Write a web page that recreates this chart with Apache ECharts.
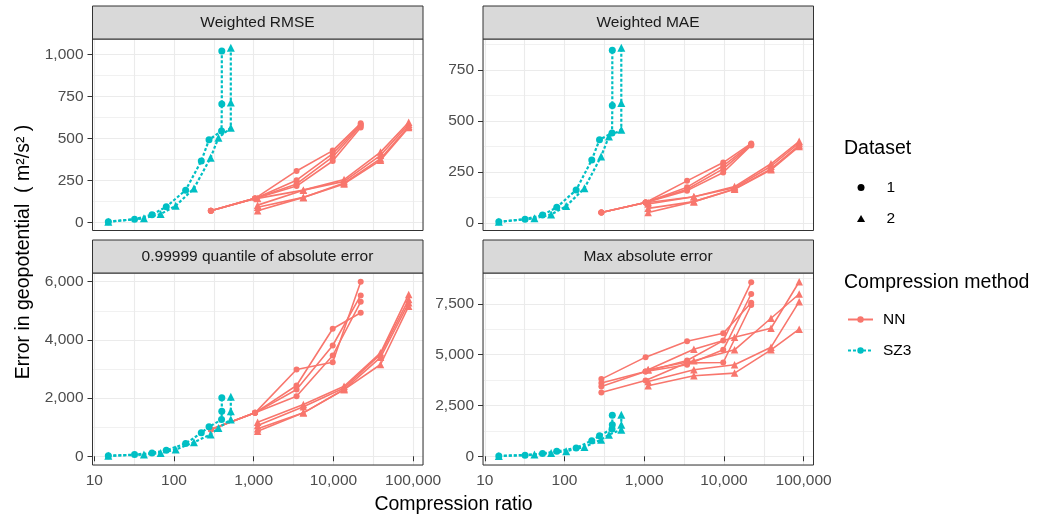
<!DOCTYPE html>
<html><head><meta charset="utf-8">
<script src="https://cdn.jsdelivr.net/npm/echarts@6/dist/echarts.min.js"></script>
<style>html,body{margin:0;padding:0;background:#fff}#c{width:1039px;height:517px}</style>
</head><body><div id="c"></div>
<script>
// ---- data ----
const xTicks = [10, 100, 1000, 10000, 100000];
const rmseTicks = [0, 250, 500, 750, 1000];
const maeTicks = [0, 250, 500, 750];
const qTicks = [0, 2000, 4000, 6000];
const maxTicks = [0, 2500, 5000, 7500];

const nnX1 = [290, 1040, 3450, 9800, 22000];
const nnX2 = [1120, 4200, 13600, 39000, 88000];
const szX1 = [15, 32, 53, 80, 140, 220, 275, 395, 398, 398];
const szX2 = [15, 42, 68, 105, 178, 288, 361, 516, 516, 516];

const rmseNN1 = [[71,144,307,428,590],[71,144,252,410,582],[71,144,230,390,575],[71,144,217,366,565]];
const rmseNN2 = [[144,193,256,419,596],[104,193,245,400,585],[91,150,235,380,572],[71,150,230,370,565]];
const rmseSZ1 = [6, 20, 47, 94, 193, 366, 492, 545, 705, 1020];
const rmseSZ2 = [5, 26, 51, 100, 203, 386, 504, 563, 714, 1039];

const maeNN1 = [[51,100,206,296,390],[51,100,175,280,386],[51,100,165,265,383],[51,100,158,247,380]];
const maeNN2 = [[100,128,178,290,400],[92,128,172,278,392],[71,104,166,265,382],[51,104,165,260,375]];
const maeSZ1 = [5, 18, 38, 76, 161, 309, 408, 441, 576, 847];
const maeSZ2 = [5, 22, 41, 82, 170, 326, 424, 457, 589, 860];

const qNN1 = [[918,1493,2982,3234,5999],[918,1493,2432,4382,4933],[918,1493,2294,3808,5528],[918,1493,2064,3464,5311]];
const qNN2 = [[1170,1778,2408,3557,5562],[1056,1700,2350,3500,5390],[942,1493,2294,3400,5277],[860,1493,2294,3154,5160]];
const qSZ1 = [15, 58, 115, 206, 437, 805, 1011, 1262, 1548, 2009];
const qSZ2 = [15, 58, 115, 229, 482, 746, 976, 1262, 1548, 2043];

const maxNN1 = [[3800,4882,5668,6061,7564],[3605,4175,4715,5697,8566],[3438,4175,4504,5241,7991],[3143,3733,4600,4617,7450]];
const maxNN2 = [[4258,5275,5864,6306,8595],[4258,4700,5241,6797,7991],[3684,4258,4504,5373,7613],[3472,3964,4096,5241,6257]];
const maxSZ1 = [15, 49, 131, 246, 409, 770, 1016, 1345, 1556, 2014];
const maxSZ2 = [15, 82, 164, 246, 460, 819, 1065, 1310, 1556, 2047];

// ---- chart ----
const FONT = '"Liberation Sans", Arial, sans-serif';
const NN_COL = '#F8766D', SZ_COL = '#00BFC4';
const X_MIN = 9.5, X_MAX = 133000;
const fmt = v => Number(v).toLocaleString('en-US');
const zip = (xs, ys) => xs.map((x, k) => [x, ys[k]]);

const panels = [
  {title:'Weighted RMSE', left:92.5, top:39, h:191.5, min:-46.7, max:1090.7, major:250, ticks:rmseTicks, nn1:rmseNN1, nn2:rmseNN2, sz1:rmseSZ1, sz2:rmseSZ2, showX:false},
  {title:'Weighted MAE', left:483, top:39, h:191.5, min:-37.8, max:902.8, major:250, ticks:maeTicks, nn1:maeNN1, nn2:maeNN2, sz1:maeSZ1, sz2:maeSZ2, showX:false},
  {title:'0.99999 quantile of absolute error', left:92.5, top:273, h:192, min:-300, max:6300, major:2000, ticks:qTicks, nn1:qNN1, nn2:qNN2, sz1:qSZ1, sz2:qSZ2, showX:true},
  {title:'Max absolute error', left:483, top:273, h:192, min:-430, max:9025, major:2500, ticks:maxTicks, nn1:maxNN1, nn2:maxNN2, sz1:maxSZ1, sz2:maxSZ2, showX:true}
];

const grid = [], xAxis = [], yAxis = [], series = [], graphic = [];
panels.forEach((p, i) => {
  grid.push({left:p.left, top:p.top, width:330.5, height:p.h, show:true, borderColor:'#333333', borderWidth:1, backgroundColor:'transparent', z:5});
  const xi = xAxis.length;
  xAxis.push({type:'log', logBase:10, gridIndex:i, min:X_MIN, max:X_MAX, position:'bottom',
    axisLine:{show:false}, splitLine:{show:false}, minorSplitLine:{show:false},
    axisTick:{show:p.showX, length:5, lineStyle:{color:'#333'}, customValues:xTicks},
    axisLabel:{show:p.showX, customValues:xTicks, formatter:v => xTicks.includes(Math.round(v)) ? fmt(Math.round(v)) : '', color:'#4d4d4d', fontSize:15.5, margin:8, fontFamily:FONT}});
  xAxis.push({type:'value', gridIndex:i, min:Math.log10(X_MIN), max:Math.log10(X_MAX), minInterval:0.5, maxInterval:0.5,
    axisLine:{show:false}, axisTick:{show:false}, axisLabel:{show:false},
    splitLine:{show:true, lineStyle:{color:'#ebebeb', width:1.1}}});
  const yi = yAxis.length;
  yAxis.push({type:'value', gridIndex:i, min:p.min, max:p.max, minInterval:p.major, maxInterval:p.major,
    axisLine:{show:false}, splitLine:{show:true, lineStyle:{color:'#ebebeb', width:1.1}},
    axisTick:{show:true, length:5, lineStyle:{color:'#333'}, customValues:p.ticks},
    axisLabel:{customValues:p.ticks, formatter:v => p.ticks.includes(v) ? fmt(v) : '', color:'#4d4d4d', fontSize:15.5, margin:9, fontFamily:FONT}});
  yAxis.push({type:'value', gridIndex:i, min:p.min, max:p.max, minInterval:p.major/2, maxInterval:p.major/2,
    axisLine:{show:false}, axisTick:{show:false}, axisLabel:{show:false},
    splitLine:{show:true, lineStyle:{color:'#ebebeb', width:0.7}}});

  const add = (name, xs, ys, col, sym, size, dashed) => series.push({
    name, type:'line', xAxisIndex:xi, yAxisIndex:yi, data:zip(xs, ys), symbol:sym, symbolSize:size,
    showSymbol:true, animation:false, z:3,
    itemStyle:{color:col}, lineStyle:{color:col, width:dashed ? 2.2 : 1.6, type:dashed ? [3, 2] : 'solid'}
  });
  p.nn1.forEach(ys => add('NN', nnX1, ys, NN_COL, 'circle', 6, false));
  p.nn2.forEach(ys => add('NN', nnX2, ys, NN_COL, 'triangle', 7.5, false));
  add('SZ3', szX1, p.sz1, SZ_COL, 'circle', 7, true);
  add('SZ3', szX2, p.sz2, SZ_COL, 'triangle', 8, true);

  const stripTop = p.top - 33;
  graphic.push({type:'rect', shape:{x:p.left, y:stripTop, width:330.5, height:33}, style:{fill:'#d9d9d9', stroke:'#333333', lineWidth:1}, z:10});
  graphic.push({type:'text', x:p.left + 165, y:stripTop + 16.5, style:{text:p.title, fill:'#1a1a1a', fontSize:15.5, fontFamily:FONT, align:'center', verticalAlign:'middle'}, z:11});
});

// dummy series for the Dataset legend
series.push({name:'1', type:'line', data:[], xAxisIndex:0, yAxisIndex:0, itemStyle:{color:'#000'}, lineStyle:{color:'#000'}});
series.push({name:'2', type:'line', data:[], xAxisIndex:0, yAxisIndex:0, itemStyle:{color:'#000'}, lineStyle:{color:'#000'}});

graphic.push({type:'text', x:24, y:252, rotation:Math.PI/2, style:{text:'Error in geopotential  ( m\u00B2/s\u00B2 )', fill:'#000', fontSize:19.5, fontFamily:FONT, align:'center', verticalAlign:'middle'}});
graphic.push({type:'text', x:453.5, y:505, style:{text:'Compression ratio', fill:'#000', fontSize:19.5, fontFamily:FONT, align:'center', verticalAlign:'middle'}});
graphic.push({type:'text', x:844, y:149, style:{text:'Dataset', fill:'#000', fontSize:19.5, fontFamily:FONT, align:'left', verticalAlign:'middle'}});
graphic.push({type:'text', x:844, y:283, style:{text:'Compression method', fill:'#000', fontSize:19.5, fontFamily:FONT, align:'left', verticalAlign:'middle'}});

const legText1 = {fontSize:15.5, lineHeight:18, color:'#000', fontFamily:FONT, padding:[0,0,0,8]};
const legText2 = {fontSize:15.5, lineHeight:18, color:'#000', fontFamily:FONT, padding:[0,0,0,5]};
const option = {
  animation:false,
  backgroundColor:'#ffffff',
  textStyle:{fontFamily:FONT},
  grid, xAxis, yAxis, series, graphic,
  legend:[
    {orient:'vertical', left:852, top:173.5, itemWidth:25, itemHeight:7, itemGap:13, selectedMode:false, symbolKeepAspect:true,
     data:[{name:'1', icon:'circle'}, {name:'2', icon:'path://M0,10L5.77,0L11.55,10Z'}], textStyle:legText1},
    {orient:'vertical', left:842, top:305.5, itemWidth:25, itemHeight:8, itemGap:13, selectedMode:false,
     data:['NN', 'SZ3'], textStyle:legText2}
  ]
};
const chart = echarts.init(document.getElementById('c'));
chart.setOption(option);
</script>
</body></html>
